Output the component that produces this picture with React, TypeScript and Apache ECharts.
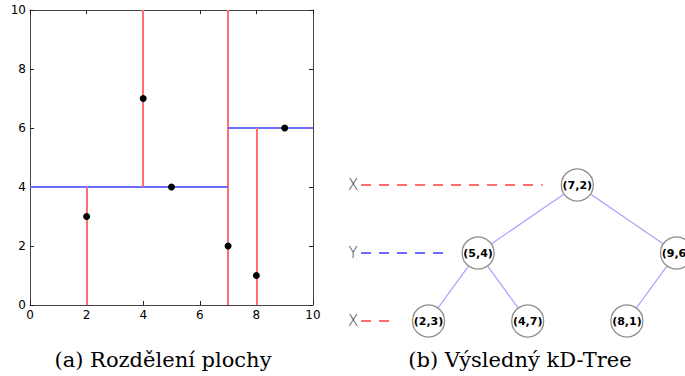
import React, { useEffect, useRef } from "react";
import * as echarts from "echarts";

// kD-tree points (insertion order) and tree structure
const pointX = [7, 5, 9, 2, 4, 8];
const pointY = [2, 4, 6, 3, 7, 1];
const parentIndex = [-1, 0, 0, 1, 1, 2];
const childSide = ["root", "left", "right", "left", "right", "left"];
const axisNames = ["X", "Y"];
const axisMin = 0;
const axisMax = 10;
const tickStep = 2;
const captions = ["(a) Rozdělení plochy", "(b) Výsledný kD-Tree"];

const RED = "#ff6f6f";
const BLUE = "#6c6cff";

function buildTree() {
  const n = pointX.length;
  const depth: number[] = [];
  const region: number[][] = [];
  const children: { left: number; right: number }[] = [];
  for (let i = 0; i < n; i++) children.push({ left: -1, right: -1 });
  for (let i = 0; i < n; i++) {
    const p = parentIndex[i];
    if (p < 0) {
      depth[i] = 0;
      region[i] = [axisMin, axisMax, axisMin, axisMax];
    } else {
      depth[i] = depth[p] + 1;
      const r = region[p].slice();
      const a = depth[p] % 2;
      if (a === 0) {
        if (childSide[i] === "left") r[1] = pointX[p];
        else r[0] = pointX[p];
      } else {
        if (childSide[i] === "left") r[3] = pointY[p];
        else r[2] = pointY[p];
      }
      region[i] = r;
      if (childSide[i] === "left") children[p].left = i;
      else children[p].right = i;
    }
  }
  const slot: number[] = [];
  let counter = 0;
  const inorder = (i: number) => {
    if (i < 0) return;
    inorder(children[i].left);
    slot[i] = counter++;
    inorder(children[i].right);
  };
  inorder(0);
  return { depth, region, slot };
}

export default function App() {
  const ref = useRef<HTMLDivElement>(null);
  useEffect(() => {
    if (!ref.current) return;
    const chart = echarts.init(ref.current, undefined, { renderer: "svg" });
    const { depth, region, slot } = buildTree();
    const n = pointX.length;

    const splits = [];
    for (let i = 0; i < n; i++) {
      const a = depth[i] % 2;
      const r = region[i];
      const coords =
        a === 0
          ? [[pointX[i], r[2]], [pointX[i], r[3]]]
          : [[r[0], pointY[i]], [r[1], pointY[i]]];
      splits.push({ coords, lineStyle: { color: a === 0 ? RED : BLUE, width: 2, opacity: 1 } });
    }

    const edges = [];
    for (let i = 0; i < n; i++) {
      const p = parentIndex[i];
      if (p >= 0) edges.push({ coords: [[slot[p], depth[p]], [slot[i], depth[i]]] });
    }

    const maxDepth = Math.max(...depth);
    const levelLabelSlot = -1.52;
    const levelDashStart = -1.36;
    const levelLines = [];
    const levelLabels = [];
    for (let d = 0; d <= maxDepth; d++) {
      let minSlot = Infinity;
      for (let i = 0; i < n; i++) if (depth[i] === d) minSlot = Math.min(minSlot, slot[i]);
      const a = d % 2;
      levelLines.push({
        coords: [[levelDashStart, d], [minSlot - 0.7, d]],
        lineStyle: { color: a === 0 ? RED : BLUE, width: 2, type: [10, 8], opacity: 1 },
      });
      levelLabels.push({ value: [levelLabelSlot, d], name: axisNames[a] });
    }

    const nodes = [];
    for (let i = 0; i < n; i++) {
      nodes.push({ value: [slot[i], depth[i]], name: `(${pointX[i]},${pointY[i]})` });
    }

    const baseAxis = {
      type: "value" as const,
      min: axisMin,
      max: axisMax,
      interval: tickStep,
      axisLine: { show: true, onZero: false, lineStyle: { color: "#444", width: 1 } },
      axisTick: { show: true, inside: true, length: 4, lineStyle: { color: "#222" } },
      splitLine: { show: false },
      gridIndex: 0,
    };
    const labelStyle = { color: "#000", fontSize: 12, fontFamily: "DejaVu Sans", margin: 4 };

    const slotPx = 49.6;
    const xMin = -(428.5 - 330) / slotPx;
    const depthPx = 68;
    const yMin = -185 / depthPx;

    const captionStyle = {
      fill: "#000",
      fontSize: 21,
      fontFamily: "'DejaVu Serif', serif",
      align: "center",
      verticalAlign: "middle",
    };

    chart.setOption({
      animation: false,
      grid: [
        { left: 30, top: 10, width: 283, height: 295 },
        { left: 330, top: 0, width: 355, height: 376 },
      ],
      xAxis: [
        { ...baseAxis, position: "bottom", axisLabel: labelStyle },
        { ...baseAxis, position: "top", axisLabel: { show: false } },
        { gridIndex: 1, type: "value", min: xMin, max: xMin + 355 / slotPx, show: false },
      ],
      yAxis: [
        { ...baseAxis, position: "left", axisLabel: labelStyle },
        { ...baseAxis, position: "right", axisLabel: { show: false } },
        { gridIndex: 1, type: "value", inverse: true, min: yMin, max: yMin + 376 / depthPx, show: false },
      ],
      series: [
        {
          type: "lines",
          coordinateSystem: "cartesian2d",
          xAxisIndex: 0,
          yAxisIndex: 0,
          z: 2,
          lineStyle: { opacity: 1 },
          data: splits,
        },
        {
          type: "scatter",
          xAxisIndex: 0,
          yAxisIndex: 0,
          z: 3,
          symbolSize: 7,
          itemStyle: { color: "#000", opacity: 1 },
          data: pointX.map((x, i) => [x, pointY[i]]),
        },
        {
          type: "lines",
          coordinateSystem: "cartesian2d",
          xAxisIndex: 2,
          yAxisIndex: 2,
          z: 2,
          lineStyle: { color: "#a0a0ff", width: 1.2, opacity: 1 },
          data: edges,
        },
        {
          type: "lines",
          coordinateSystem: "cartesian2d",
          xAxisIndex: 2,
          yAxisIndex: 2,
          z: 2,
          lineStyle: { opacity: 1 },
          data: levelLines,
        },
        {
          type: "scatter",
          xAxisIndex: 2,
          yAxisIndex: 2,
          z: 4,
          symbolSize: 32,
          itemStyle: { color: "#fff", borderColor: "#8f8f8f", borderWidth: 1.3, opacity: 1 },
          label: {
            show: true,
            position: "inside",
            formatter: "{b}",
            color: "#000",
            fontWeight: "bold",
            fontSize: 11,
            fontFamily: "DejaVu Sans",
          },
          data: nodes,
        },
        {
          type: "scatter",
          xAxisIndex: 2,
          yAxisIndex: 2,
          z: 4,
          symbolSize: 1,
          itemStyle: { color: "transparent", opacity: 1 },
          label: {
            show: true,
            position: "inside",
            formatter: "{b}",
            color: "#333333",
            fontSize: 15,
            fontFamily: "DejaVu Sans",
            fontWeight: "lighter",
          },
          data: levelLabels,
        },
      ],
      graphic: [
        {
          type: "text",
          x: 163,
          y: 360,
          style: { ...captionStyle, text: captions[0] },
        },
        {
          type: "text",
          x: 520,
          y: 360,
          style: { ...captionStyle, text: captions[1] },
        },
      ],
    });
    return () => chart.dispose();
  }, []);
  return (
    <div
      ref={ref}
      style={{ position: "fixed", left: 0, top: 0, width: 685, height: 376, background: "#fff" }}
    />
  );
}
